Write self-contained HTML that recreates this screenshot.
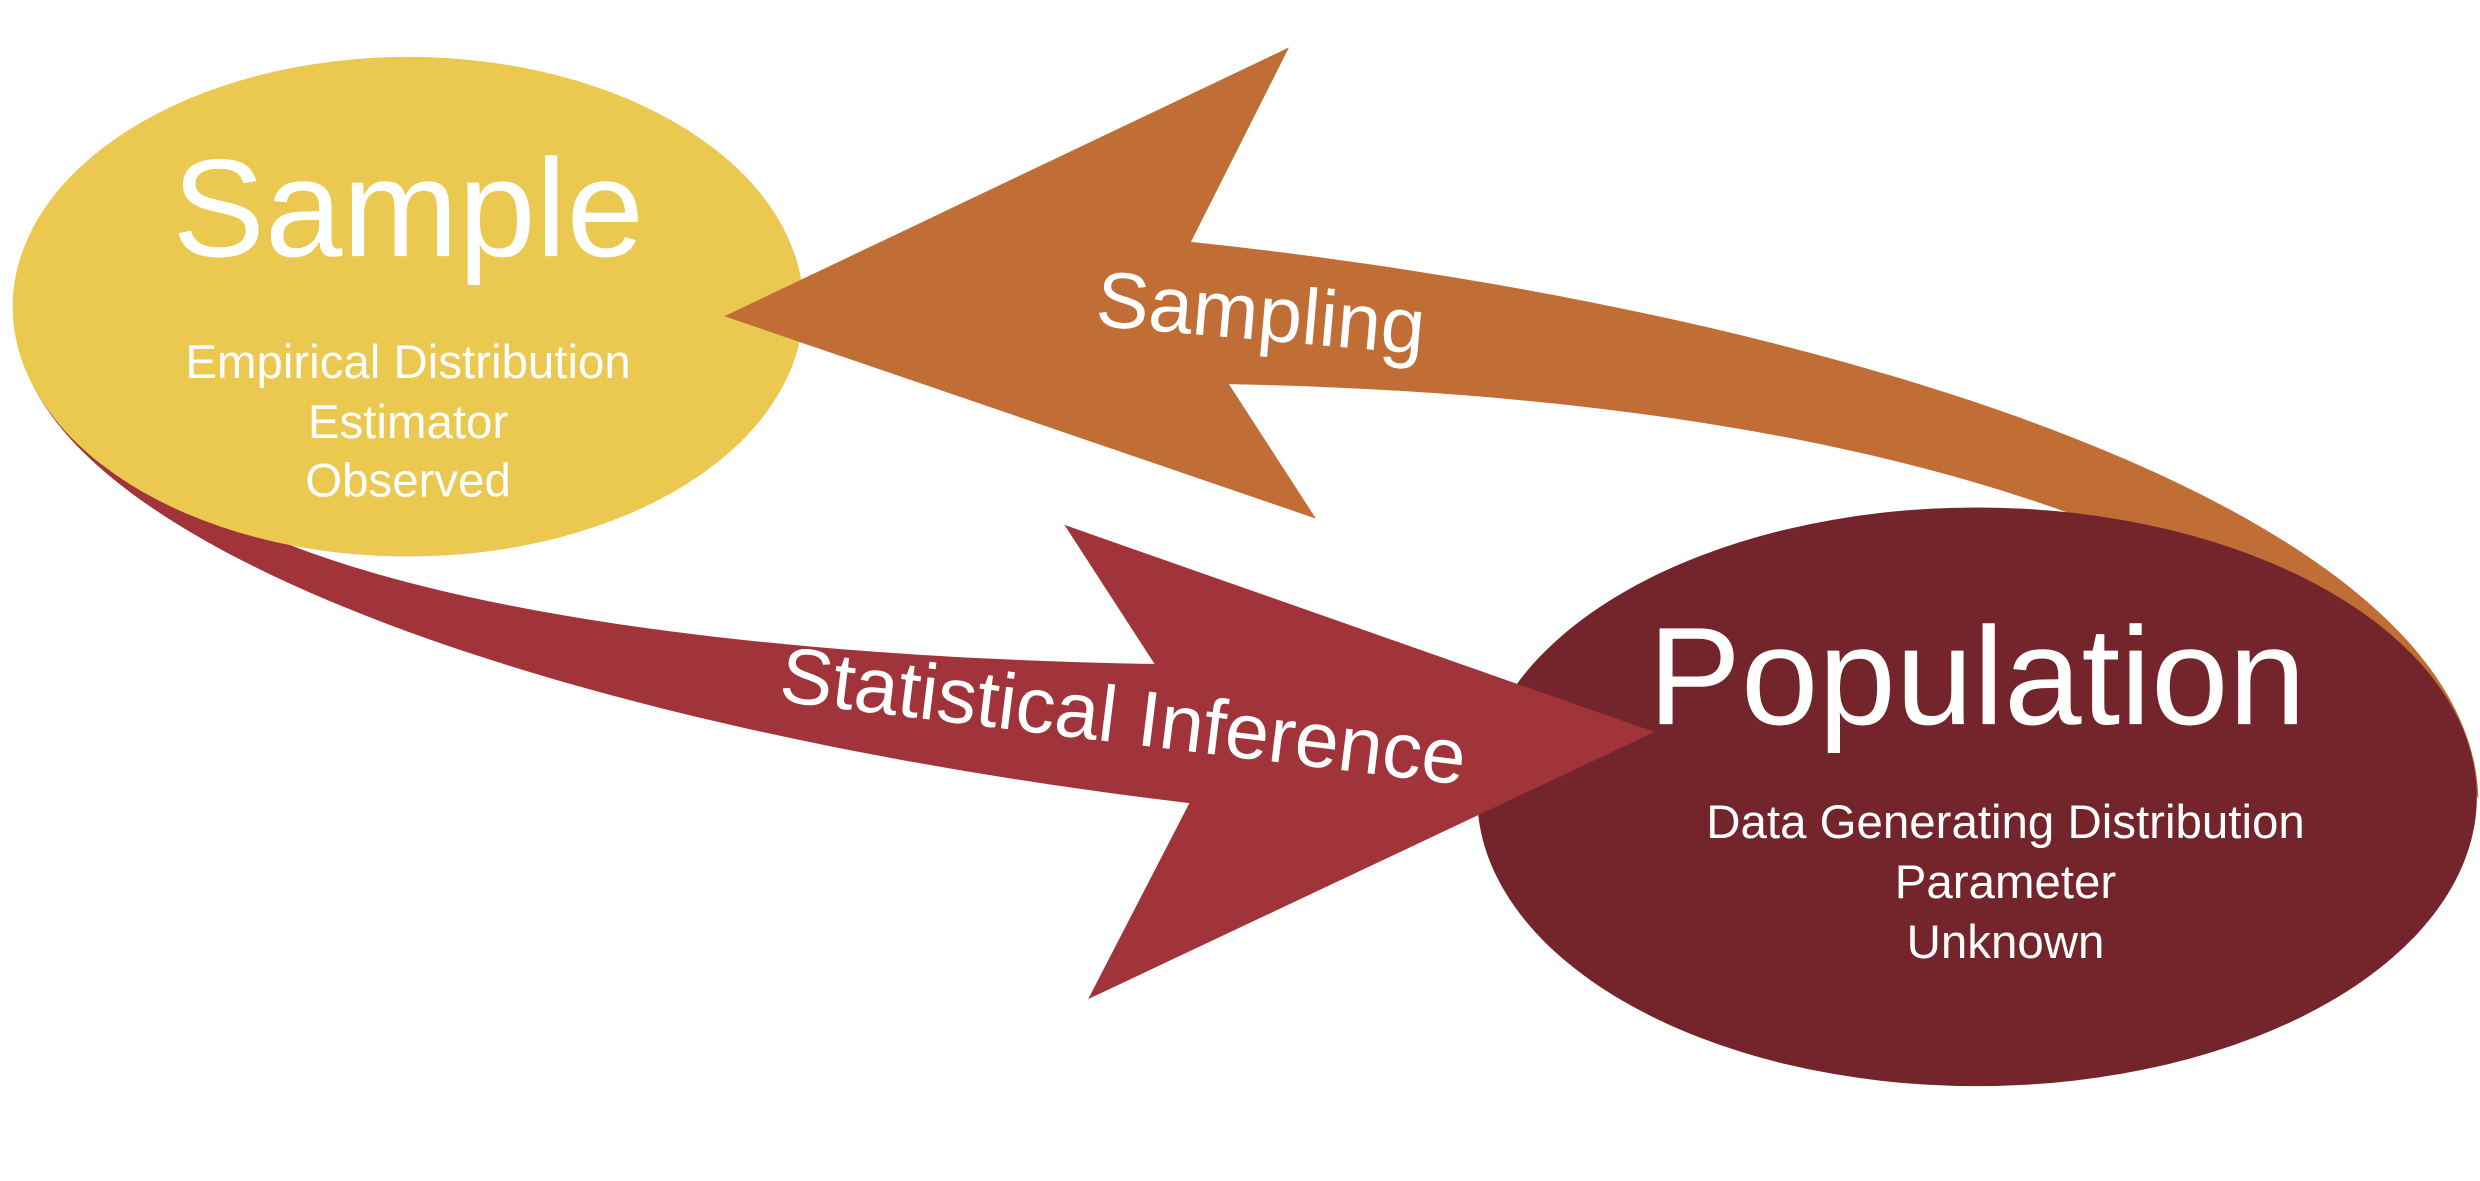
<!DOCTYPE html>
<html><head><meta charset="utf-8"><style>
html,body{margin:0;padding:0;background:#fff;}
svg{display:block;}
text{font-family:"Liberation Sans",sans-serif;fill:#fff;}
</style></head><body>
<svg width="2480" height="1181" viewBox="0 0 1568 747" preserveAspectRatio="none" xmlns="http://www.w3.org/2000/svg">
<rect width="1568" height="747" fill="#fff"/>
<path d="M815,30 L753,153 C1150,195 1562,320 1567,505 C1450,330 1150,250 777,243 L832,328 L458,200 Z" fill="#C06E36"/>
<ellipse cx="1250" cy="504" rx="316" ry="183" fill="#73252B"/>
<path d="M10,195 C2,340 350,460 752,508 L688,632 L1046,463 L673,332 L730,420 C450,415 250,380 150,330 L60,250 L20,190 Z" fill="#A0343A"/>
<ellipse cx="258" cy="194" rx="250" ry="158" fill="#EBC84F"/>
<polygon points="458,200 512,174.3 512,218.5" fill="#C06E36"/>
<text x="258" y="162" font-size="88" text-anchor="middle">Sample</text>
<text x="258" y="239" font-size="30" text-anchor="middle">Empirical Distribution</text>
<text x="258" y="277" font-size="30" text-anchor="middle">Estimator</text>
<text x="258" y="314" font-size="30" text-anchor="middle">Observed</text>
<text x="1250" y="458" font-size="88" text-anchor="middle">Population</text>
<text x="1268" y="530" font-size="30" text-anchor="middle">Data Generating Distribution</text>
<text x="1268" y="568" font-size="30" text-anchor="middle">Parameter</text>
<text x="1268" y="606" font-size="30" text-anchor="middle">Unknown</text>
<text x="797" y="215" font-size="50" text-anchor="middle" transform="rotate(5 797 200)">Sampling</text>
<text x="710" y="470" font-size="50" text-anchor="middle" transform="rotate(7 710 455)">Statistical Inference</text>
</svg>
</body></html>
